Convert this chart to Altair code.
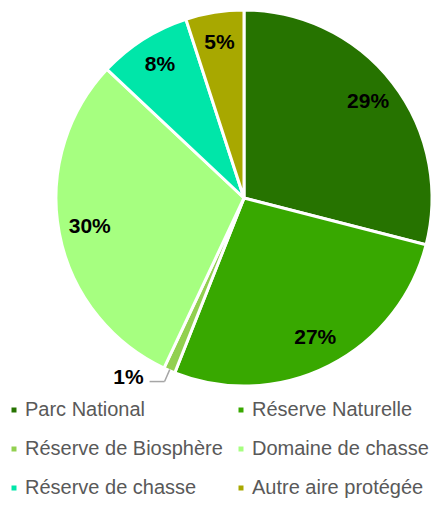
import altair as alt
import pandas as pd
import numpy as np

categories = ["Parc National", "Réserve Naturelle", "Réserve de Biosphère",
              "Domaine de chasse", "Réserve de chasse", "Autre aire protégée"]
values = [29, 27, 1, 30, 8, 5]
labels = ["29%", "27%", "1%", "30%", "8%", "5%"]
colors = ["#267300", "#38A800", "#92D050", "#A6FF80", "#00E6A9", "#A8A800"]

cx, cy, R = 236, 190, 188

df = pd.DataFrame({"cat": categories, "val": values, "label": labels})
df["end"] = df["val"].cumsum()
df["start"] = df["end"] - df["val"]
df["mid"] = (df["start"] + df["end"]) / 2
df["inside"] = df["val"] > 2
# leader geometry for outside label, derived from the slice's mid angle
ang = df["mid"] / df["val"].sum() * 2 * np.pi
df["lx"] = cx + 200 * np.sin(ang)
df["ly"] = cy - 200 * np.cos(ang)
df["lx2"] = df["lx"] - 15
df["tx"] = df["lx2"] - 6
df["ty"] = df["ly"] - 4

tscale = alt.Scale(domain=[0, 100])

color = alt.Color("cat:N", scale=alt.Scale(domain=categories, range=colors),
                  sort=categories,
                  legend=alt.Legend(title=None, orient="none", legendX=-4, legendY=392,
                                    direction="horizontal", padding=0,
                                    columns=2, symbolType="square", symbolSize=25,
                                    symbolOffset=0,
                                    labelFontSize=20, labelFont="Liberation Sans",
                                    labelColor="#595959", labelOffset=1,
                                    rowPadding=19, columnPadding=8, labelLimit=300,
                                    symbolStrokeWidth=0))

base = alt.Chart(df).encode(x=alt.value(cx), y=alt.value(cy))

arcs = base.mark_arc(outerRadius=R, stroke="white", strokeWidth=3).encode(
    theta=alt.Theta("start:Q", scale=tscale), theta2="end:Q", color=color)

text_in = base.transform_filter("datum.inside").mark_text(
    radius=157, font="Liberation Sans", fontSize=21, fontWeight="bold", color="black"
).encode(theta=alt.Theta("mid:Q", scale=tscale), text="label:N")

outside = alt.Chart(df).transform_filter("!datum.inside")

leader_r = base.transform_filter("!datum.inside").mark_arc(
    radius=187, radius2=200, stroke="#A6A6A6", strokeWidth=1.5
).encode(theta=alt.Theta("mid:Q", scale=tscale), theta2="mid:Q")

leader_h = outside.mark_rule(color="#A6A6A6", strokeWidth=1.5).encode(
    x=alt.X("lx:Q", scale=None), x2="lx2:Q", y=alt.Y("ly:Q", scale=None))

text_out = outside.mark_text(
    font="Liberation Sans", fontSize=21, fontWeight="bold", color="black",
    align="right", baseline="middle"
).encode(x=alt.X("tx:Q", scale=None), y=alt.Y("ty:Q", scale=None), text="label:N")

chart = alt.layer(arcs, leader_r, leader_h, text_in, text_out).properties(
    width=430, height=493, padding=0, autosize="none"
).configure_view(stroke=None)

chart.save("out.html", embed_options={"renderer": "svg", "actions": False})
